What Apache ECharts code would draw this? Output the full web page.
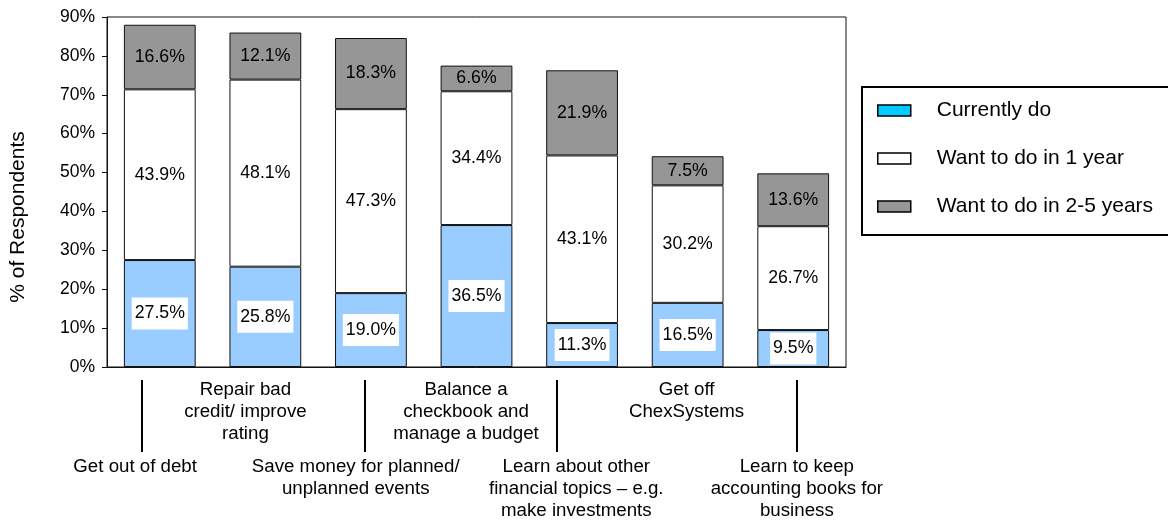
<!DOCTYPE html>
<html>
<head>
<meta charset="utf-8">
<script src="https://cdn.jsdelivr.net/npm/echarts@6/dist/echarts.min.js"></script>
<style>
  html, body { margin: 0; padding: 0; background: #ffffff; }
  #chart { width: 1168px; height: 520px; }
</style>
</head>
<body>
<div id="chart"></div>
<script>
// Survey goals: share of respondents by timing of each financial goal
const categories = [
  'Get out of debt',
  'Repair bad credit/ improve rating',
  'Save money for planned/ unplanned events',
  'Balance a checkbook and manage a budget',
  'Learn about other financial topics – e.g. make investments',
  'Get off ChexSystems',
  'Learn to keep accounting books for business'
];
// Wrapped label lines for each category
const categoryLines = [
  ['Get out of debt'],
  ['Repair bad', 'credit/ improve', 'rating'],
  ['Save money for planned/', 'unplanned events'],
  ['Balance a', 'checkbook and', 'manage a budget'],
  ['Learn about other', 'financial topics – e.g.', 'make investments'],
  ['Get off', 'ChexSystems'],
  ['Learn to keep', 'accounting books for', 'business']
];
const seriesNames = ['Currently do', 'Want to do in 1 year', 'Want to do in 2-5 years'];
const currentlyDo = [27.5, 25.8, 19.0, 36.5, 11.3, 16.5, 9.5];
const wantIn1Year = [43.9, 48.1, 47.3, 34.4, 43.1, 30.2, 26.7];
const wantIn2to5Years = [16.6, 12.1, 18.3, 6.6, 21.9, 7.5, 13.6];
const yTicks = { min: 0, max: 90, interval: 10 };

const FONT = '"Liberation Sans", Arial, sans-serif';
const chart = echarts.init(document.getElementById('chart'), null, { renderer: 'canvas' });

const pct = p => p.value.toFixed(1) + '%';

function barSeries(name, data, color, labelExtra) {
  return {
    name: name,
    type: 'bar',
    stack: 'total',
    xAxisIndex: 0,
    yAxisIndex: 0,
    barWidth: '68%',
    data: data,
    itemStyle: { color: color, borderColor: '#111', borderWidth: 1 },
    label: Object.assign({
      show: true,
      position: 'inside',
      formatter: pct,
      color: '#000',
      fontFamily: FONT,
      fontSize: 17.7
    }, labelExtra || {}),
    emphasis: { disabled: true },
    animation: false
  };
}

const option = {
  backgroundColor: '#ffffff',
  animation: false,
  textStyle: { fontFamily: FONT },
  grid: [
    { left: 105, right: 322, top: 17, bottom: 153, show: true, borderColor: '#111', borderWidth: 1, backgroundColor: 'transparent' },
    // grid that only carries the two-row category labels
    { left: 80, right: 316, top: 17, bottom: 153, show: false }
  ],
  legend: {
    orient: 'vertical',
    left: 862,
    top: 87,
    padding: [13, 120, 18, 15],
    itemGap: 27,
    itemWidth: 33,
    itemHeight: 11,
    icon: 'rect',
    borderColor: '#000',
    borderWidth: 2,
    backgroundColor: '#fff',
    selectedMode: false,
    textStyle: { fontFamily: FONT, fontSize: 21, color: '#000', padding: [0, 0, 0, 21] },
    data: [
      { name: seriesNames[0], itemStyle: { color: '#00CCFF', borderColor: '#000', borderWidth: 1.5 } },
      { name: seriesNames[1], itemStyle: { color: '#ffffff', borderColor: '#000', borderWidth: 1.5 } },
      { name: seriesNames[2], itemStyle: { color: '#969696', borderColor: '#000', borderWidth: 1.5 } }
    ]
  },
  xAxis: [
    {
      type: 'category',
      gridIndex: 0,
      data: categories,
      axisLine: { show: true, lineStyle: { color: '#111', width: 1 } },
      axisTick: { show: false },
      axisLabel: { show: false }
    },
    {
      type: 'category',
      gridIndex: 1,
      data: categories,
      axisLine: { show: false },
      axisTick: { show: false },
      axisLabel: {
        interval: 0,
        margin: 18,
        color: '#000',
        fontFamily: FONT,
        fontSize: 18.7,
        formatter: function (value, idx) {
          const lines = categoryLines[idx].map(s => '{t|' + s + '}');
          if (idx % 2 === 0) lines.unshift('{sp| }');
          return lines.join('\n');
        },
        rich: {
          t: { fontFamily: FONT, fontSize: 18.7, lineHeight: 22, color: '#000' },
          sp: { fontSize: 18.7, lineHeight: 77 }
        }
      }
    }
  ],
  yAxis: [
    {
      type: 'value',
      gridIndex: 0,
      min: yTicks.min,
      max: yTicks.max,
      interval: yTicks.interval,
      name: '% of Respondents',
      nameLocation: 'middle',
      nameRotate: 90,
      nameGap: 78,
      nameTextStyle: { fontFamily: FONT, fontSize: 21, color: '#000', padding: [0, 50, 0, 0] },
      axisLine: { show: true, lineStyle: { color: '#111', width: 1 } },
      axisTick: { show: true, length: 5, lineStyle: { color: '#111' } },
      splitLine: { show: false },
      axisLabel: {
        margin: 12,
        color: '#000',
        fontFamily: FONT,
        fontSize: 17.5,
        formatter: '{value}%'
      }
    },
    {
      type: 'value',
      gridIndex: 1,
      show: false,
      min: 0,
      max: 90
    }
  ],
  series: [
    barSeries(seriesNames[0], currentlyDo, '#99CCFF', { backgroundColor: '#ffffff', padding: [7, 3, 7, 3] }),
    barSeries(seriesNames[1], wantIn1Year, '#ffffff'),
    barSeries(seriesNames[2], wantIn2to5Years, '#969696')
  ]
};

chart.setOption(option);

// Vertical separators between the two rows of category labels
const sepOffsets = [[0, 7], [2, 9], [4, -19], [6, 0]];
const axisY = chart.convertToPixel({ yAxisIndex: 0 }, 0);
const seps = sepOffsets.map(function (s) {
  const x = Math.round(chart.convertToPixel({ xAxisIndex: 1 }, categories[s[0]])) + s[1];
  return {
    type: 'line',
    shape: { x1: x, y1: axisY + 13, x2: x, y2: axisY + 85 },
    style: { stroke: '#000', lineWidth: 2 },
    silent: true
  };
});
chart.setOption({ graphic: seps });
</script>
</body>
</html>
